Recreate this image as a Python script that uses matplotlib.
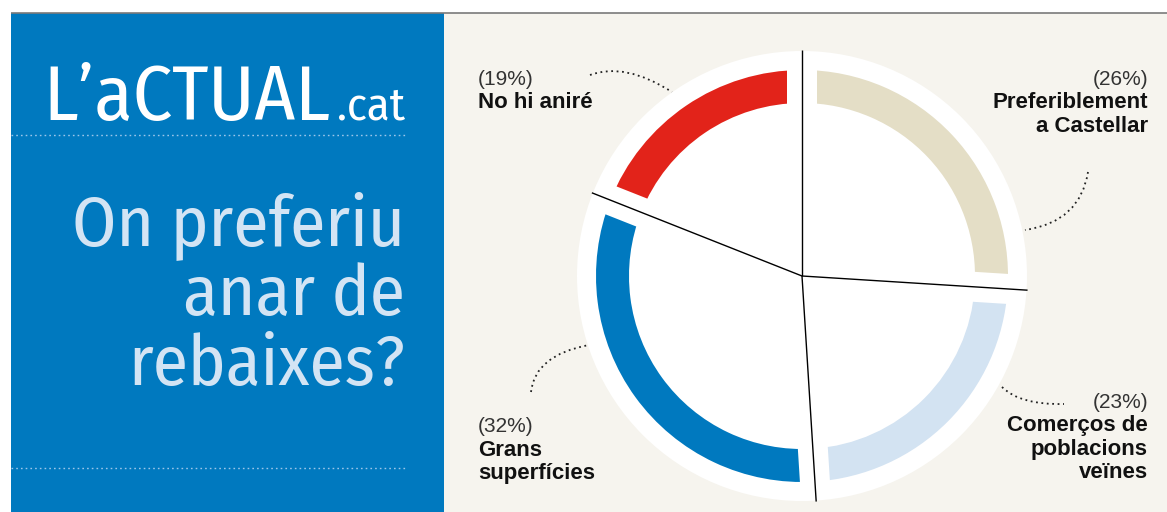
import matplotlib
matplotlib.use("Agg")
import numpy as np
import matplotlib.pyplot as plt
from matplotlib.patches import Rectangle, Circle, PathPatch
from matplotlib.path import Path

# ---------------- data ----------------
categories = ["Preferiblement\na Castellar", "Comerços de\npoblacions\nveïnes",
              "Grans\nsuperfícies", "No hi aniré"]
values = [26, 23, 32, 19]
pct_labels = ["(26%)", "(23%)", "(32%)", "(19%)"]
slice_colors = ["#E4DEC6", "#D3E3F2", "#0079BF", "#E2231A"]
logo_main = "L’aCTUAL"
logo_suffix = ".cat"
title_lines = ["On preferiu", "anar de", "rebaixes?"]

# ---------------- style ----------------
W, H = 1167, 512
BLUE = "#0079BF"
BEIGE = "#F6F4EE"
TITLE_C = "#D3E4F4"
TITLE_FONT = ["Fira Sans Condensed", "Encode Sans Condensed", "Roboto Condensed",
              "IBM Plex Sans Condensed", "DejaVu Sans"]
LABEL_FONT = ["Liberation Sans", "Arimo", "DejaVu Sans"]

fig = plt.figure(figsize=(W / 100, H / 100), dpi=100)
fig.patch.set_facecolor("white")

bg = fig.add_axes([0, 0, 1, 1])
bg.set_xlim(0, W)
bg.set_ylim(H, 0)
bg.axis("off")

bg.add_patch(Rectangle((11, 13), 433, H - 13, color=BLUE, lw=0, zorder=0))
bg.add_patch(Rectangle((444, 13), W - 444, H - 13, color=BEIGE, lw=0, zorder=0))
bg.plot([11, W], [13, 13], color="#7a7a7a", lw=1.2, zorder=1, solid_capstyle="butt")

# dotted rules in blue panel
for yy in (135, 468):
    bg.plot([11, 405], [yy, yy], color="#9CC6EA", lw=1.0, ls=(0, (1.2, 2.2)), zorder=1)

# logo
t_logo = bg.text(43, 120, logo_main, color="white", fontsize=60, family=TITLE_FONT,
                 ha="left", va="baseline", zorder=3)
t_cat = bg.text(405, 120, logo_suffix, color="white", fontsize=30, family=TITLE_FONT,
                ha="right", va="baseline", zorder=3)

# title
title_base = [245, 315, 385]
t_title = [bg.text(405, yb, s, color=TITLE_C, fontsize=50, family=TITLE_FONT,
                   ha="right", va="baseline", zorder=3)
           for s, yb in zip(title_lines, title_base)]

renderer = fig.canvas.get_renderer()


def fit(t, target):
    for _ in range(3):
        bb = t.get_window_extent(renderer)
        t.set_fontsize(t.get_fontsize() * target / bb.width)


fit(t_logo, 287)
fit(t_cat, 68)
fit(t_title[0], 333)
for t in t_title[1:]:
    t.set_fontsize(t_title[0].get_fontsize())

# ---------------- donut ----------------
cx, cy = 802, 276
half = 240
ax = fig.add_axes([(cx - half) / W, (H - cy - half) / H, 2 * half / W, 2 * half / H])
ax.add_patch(Circle((0, 0), 225, color="white", lw=0, zorder=0))
ax.pie(values, colors=slice_colors, startangle=90, counterclock=False,
       radius=206, wedgeprops=dict(width=33, linewidth=0), frame=False)
bounds = 90 - 360 * np.concatenate([[0], np.cumsum(values)[:-1]]) / np.sum(values)
for th in np.deg2rad(bounds):
    ax.plot([0, 215 * np.cos(th)], [0, 215 * np.sin(th)], color="white", lw=21.6,
            solid_capstyle="butt", zorder=5)
for th in np.deg2rad(bounds):
    ax.plot([0, 226 * np.cos(th)], [0, 226 * np.sin(th)], color="black", lw=1.0,
            solid_capstyle="butt", zorder=6)
ax.set_xlim(-half, half)
ax.set_ylim(-half, half)
ax.set_aspect("auto")
ax.axis("off")

# ---------------- labels ----------------
label_pos = [(1148, 85, "right"), (1148, 408, "right"), (478, 432, "left"), (478, 85, "left")]
for (x, y0, ha), pct, name in zip(label_pos, pct_labels, categories):
    bg.text(x, y0, pct, fontsize=15, family=LABEL_FONT, color="#333333",
            ha=ha, va="baseline", zorder=4)
    for k, line in enumerate(name.split("\n")):
        bg.text(x, y0 + 23.5 * (k + 1), line, fontsize=16, family=LABEL_FONT,
                fontweight="bold", color="#111111", ha=ha, va="baseline", zorder=4)

# dotted connectors (quadratic curves)
connectors = [
    [(590, 75), (625, 62), (672, 92)],
    [(1088, 172), (1080, 222), (1025, 230)],
    [(1002, 387), (1020, 405), (1064, 404)],
    [(531, 392), (535, 355), (589, 345)],
]
for p0, c, p1 in connectors:
    path = Path([p0, c, p1], [Path.MOVETO, Path.CURVE3, Path.CURVE3])
    bg.add_patch(PathPatch(path, fill=False, ec="#222222", lw=1.3,
                           ls=(0, (1, 2)), zorder=4))

fig.savefig("out.png", dpi=100, facecolor="white")
